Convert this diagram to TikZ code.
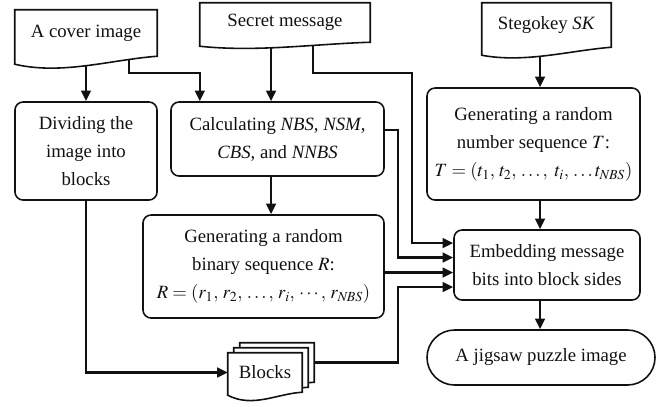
\documentclass[tikz,border=0pt]{standalone}
\usepackage{mathptmx}
\usepackage{fontspec}
\setmainfont{Liberation Serif}
\usepackage{tikz}
\usetikzlibrary{calc,arrows.meta,shapes.misc,backgrounds}
\definecolor{ink}{HTML}{111111}
\tikzset{
  txt/.style={align=center, inner sep=0pt, text=ink, font=\fontsize{16}{24}\selectfont},
  box/.style={txt, draw=ink, line width=1.35pt, rounded corners=0.24cm},
  term/.style={txt, draw=ink, line width=1.35pt, rounded rectangle},
  docline/.style={draw=ink, fill=white, line width=1.35pt},
  arr/.style={draw=ink, line width=2.1pt, -{Triangle[length=3.2mm,width=2.9mm]}}
}
% outline of a document node: flat top, wavy bottom (#2 drop at the left, #3 dip)
\newcommand{\DocOutline}[4]{%
  \begin{scope}[on background layer]
    \draw[docline] (#1.north west) -- ($(#1.south west)+(0,#2)$)
      .. controls ($(#1.south west)!1/3!(#1.south east)+(0,#3)$)
      and ($(#1.south west)!2/3!(#1.south east)+(0,#2*0.45)$) .. #4 (#1.south east)
      -- (#1.north east) -- cycle;
  \end{scope}}

\begin{document}
\begin{tikzpicture}[x=0.03cm, y=-0.03cm]
  \useasboundingbox (0,0) rectangle (657,406);

  % inputs
  \node[txt, minimum width=4.26cm, minimum height=1.38cm] (cover) at (86,33) {A cover image};
  \node[txt, minimum width=5.1cm, minimum height=1.17cm] (secret) at (285,22.5) {Secret message};
  \node[txt, minimum width=3.87cm, minimum height=1.32cm] (stegokey) at (546.5,25) {Stegokey \textit{SK}};
  \DocOutline{cover}{8}{19}{coordinate[pos=0.5] (cv-a) coordinate[pos=0.803] (cv-b)}
  \DocOutline{secret}{4}{10}{coordinate[pos=0.418] (sm-a) coordinate[pos=0.665] (sm-b)}
  \DocOutline{stegokey}{8}{16}{coordinate[pos=0.45] (sk-a)}

  % processing steps
  \node[box, minimum width=4.26cm, minimum height=2.94cm] (divide) at (86,151)
    {Dividing the\\image into\\blocks};
  \node[box, minimum width=6.39cm, minimum height=2.22cm] (calc) at (277.5,139)
    {Calculating \textit{NBS}, \textit{NSM},\\\textit{CBS}, and \textit{NNBS}};
  \node[box, minimum width=6.39cm, minimum height=3.36cm] (steggen) at (533.5,144)
    {Generating a random\\number sequence $T$:\\$T=\left(t_1,\, t_2,\, \ldots,\ t_i,\, \ldots t_{\mathit{NBS}}\right)$};
  \node[box, minimum width=7.23cm, minimum height=3.09cm] (binary) at (263.5,266.5)
    {Generating a random\\binary sequence $R$:\\$R=\left(r_1,\, r_2,\, \ldots,\, r_i,\, \cdots,\, r_{\mathit{NBS}}\right)$};
  \node[box, minimum width=5.58cm, minimum height=2.1cm] (embed) at (547,265)
    {Embedding message\\bits into block sides};
  \node[term, minimum width=6.84cm, minimum height=1.65cm] (jigsaw) at (541,357.5)
    {A jigsaw puzzle image};

  % stack of blocks
  \node[txt, minimum width=2.22cm, minimum height=1.17cm] (blocks3) at (277,362.5) {};
  \node[txt, minimum width=2.22cm, minimum height=1.17cm] (blocks2) at (271,367.5) {};
  \node[txt, minimum width=2.22cm, minimum height=1.17cm] (blocks) at (265,372.5) {Blocks};
  \DocOutline{blocks3}{3}{12}{}
  \DocOutline{blocks2}{3}{12}{}
  \DocOutline{blocks}{3}{16}{}

  \coordinate (lane) at (0,73);
  \coordinate (colA) at (412,0);
  \coordinate (colB) at (398,0);
  \coordinate (in1) at ($(embed.west)+(0,-22)$);
  \coordinate (in2) at ($(embed.west)+(0,-7.5)$);
  \coordinate (in3) at ($(embed.west)+(0,7.5)$);
  \coordinate (in4) at ($(embed.west)+(0,22)$);

  \draw[arr] (cv-a) -- (cv-a |- divide.north);
  \draw[arr] (cv-b) |- (lane -| secret.west) -- (secret.west |- calc.north);
  \draw[arr] (sm-a) -- (sm-a |- calc.north);
  \draw[arr] (sm-b) |- (lane -| colA) |- (in1);
  \draw[arr] ([yshift=0.27cm]calc.east) -| (colB |- in2) -- (in2);
  \draw[arr] (calc.south -| sm-a) -- (binary.north -| sm-a);
  \draw[arr] (binary.east |- in3) -- (in3);
  \draw[arr] (blocks3.east) -| (colB |- in4) -- (in4);
  \draw[arr] (divide.south) |- (blocks.west);
  \draw[arr] (sk-a) -- (sk-a |- steggen.north);
  \draw[arr] (steggen.south -| sk-a) -- (embed.north -| sk-a);
  \draw[arr] (embed.south -| sk-a) -- (jigsaw.north -| sk-a);
\end{tikzpicture}
\end{document}
